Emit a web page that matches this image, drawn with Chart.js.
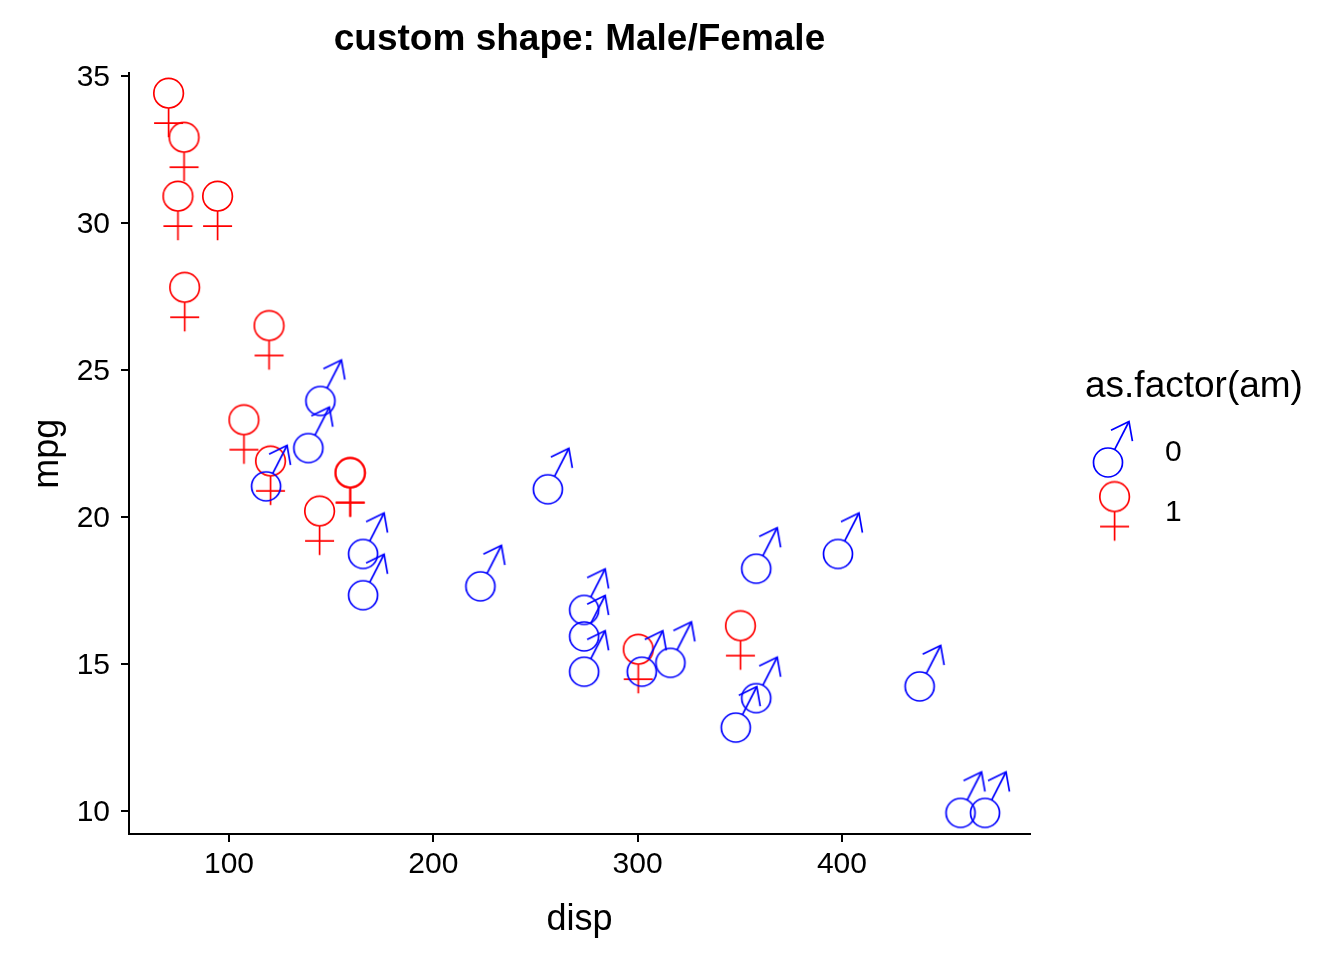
<!DOCTYPE html>
<html>
<head>
<meta charset="utf-8">
<title>custom shape: Male/Female</title>
<script src="https://cdn.jsdelivr.net/npm/chart.js@4.4.1/dist/chart.umd.min.js"></script>
<style>
  body { margin: 0; background: #fff; }
  #wrap { position: relative; width: 1344px; height: 960px; }
</style>
</head>
<body>
<div id="wrap"><canvas id="plot"></canvas></div>
<script>
// mtcars: disp vs mpg, split by am (0 = automatic, 1 = manual)
const dispAm0 = [258, 360, 225, 360, 146.7, 140.8, 167.6, 167.6, 275.8, 275.8, 275.8, 472, 460, 440, 120.1, 318, 304, 350, 400];
const mpgAm0  = [21.4, 18.7, 18.1, 14.3, 24.4, 22.8, 19.2, 17.8, 16.4, 17.3, 15.2, 10.4, 10.4, 14.7, 21.5, 15.5, 15.2, 13.3, 19.2];
const dispAm1 = [160, 160, 108, 78.7, 75.7, 71.1, 79, 120.3, 95.1, 351, 145, 301, 121];
const mpgAm1  = [21, 21, 22.8, 32.4, 30.4, 33.9, 27.3, 26, 30.4, 15.8, 19.7, 15, 21.4];

const xTicks = [100, 200, 300, 400];
const yTicks = [10, 15, 20, 25, 30, 35];
const legendLabels = ['0', '1'];

const FONT = "'Liberation Sans', Arial, Helvetica, sans-serif";
Chart.defaults.color = '#000';
Chart.defaults.font.family = FONT;

// draw the ♂ / ♀ symbol into a small canvas, the data point sits at its centre
function makeGlyph(kind, color) {
    const c = document.createElement('canvas');
    c.width = 80; c.height = 110;
    const g = c.getContext('2d');
    g.translate(40, 55);
    g.strokeStyle = color;
    g.lineWidth = 1.7;
    g.lineCap = 'butt';
    if (kind === 'male') {
        const cx = -4, cy = 13.5, r = 14.5;
        g.beginPath(); g.arc(cx, cy, r, 0, Math.PI * 2); g.stroke();
        const tx = cx + 21, ty = cy - 41;
        const len = Math.hypot(21, 41);
        const ux = 21 / len, uy = -41 / len;
        g.beginPath();
        g.moveTo(cx + ux * r, cy + uy * r);
        g.lineTo(tx, ty);
        g.stroke();
        const back = Math.atan2(-uy, -ux);
        const a = 37 * Math.PI / 180;
        g.beginPath();
        g.moveTo(tx + Math.cos(back + a) * 20, ty + Math.sin(back + a) * 20);
        g.lineTo(tx, ty);
        g.lineTo(tx + Math.cos(back - a) * 20, ty + Math.sin(back - a) * 20);
        g.stroke();
    } else {
        const cx = -1.4, cy = -14.8, r = 14.8;
        g.beginPath(); g.arc(cx, cy, r, 0, Math.PI * 2); g.stroke();
        g.beginPath();
        g.moveTo(cx, cy + r); g.lineTo(cx, cy + 44);
        g.moveTo(cx - 14.5, cy + 30); g.lineTo(cx + 14.5, cy + 30);
        g.stroke();
    }
    return c;
}

const maleGlyph = makeGlyph('male', '#0000ff');
const femaleGlyph = makeGlyph('female', '#ff0000');

const toPoints = (xs, ys) => xs.map((x, i) => ({x: x, y: ys[i]}));

// legend on the right, drawn like ggplot's guide
const sideLegend = {
    id: 'sideLegend',
    afterDraw(chart) {
        const ctx = chart.ctx;
        ctx.save();
        ctx.fillStyle = '#000';
        ctx.font = '37px ' + FONT;
        ctx.textAlign = 'left';
        ctx.textBaseline = 'alphabetic';
        ctx.fillText('as.factor(am)', 1085, 397);
        ctx.drawImage(maleGlyph, 1112 - 40, 449 - 55);
        ctx.drawImage(femaleGlyph, 1116 - 40, 511.5 - 55);
        ctx.font = '30px ' + FONT;
        ctx.textBaseline = 'middle';
        ctx.fillText(legendLabels[0], 1165, 453);
        ctx.fillText(legendLabels[1], 1165, 513);
        ctx.restore();
    }
};

new Chart(document.getElementById('plot'), {
    type: 'scatter',
    data: {
        datasets: [{
            label: legendLabels[0],
            data: toPoints(dispAm0, mpgAm0),
            pointStyle: maleGlyph,
            pointRadius: 3,
            clip: false
        }, {
            label: legendLabels[1],
            data: toPoints(dispAm1, mpgAm1),
            pointStyle: femaleGlyph,
            pointRadius: 3,
            clip: false
        }]
    },
    options: {
        responsive: true,
        maintainAspectRatio: false,
        animation: false,
        events: [],
        layout: { padding: { left: 0, right: 314, top: 0, bottom: 0 } },
        scales: {
            x: {
                type: 'linear',
                min: 51.055,
                max: 492.045,
                afterFit: s => { s.height = 126; },
                afterBuildTicks: s => { s.ticks = xTicks.map(v => ({value: v})); },
                border: { display: true, color: '#000', width: 2 },
                grid: { drawOnChartArea: false, drawTicks: true, tickLength: 8, color: '#000', lineWidth: 2 },
                ticks: { font: { size: 30 }, padding: 5, color: '#000', maxRotation: 0 },
                title: { display: true, text: 'disp', font: { size: 36 }, color: '#000', padding: { top: 4, bottom: 18 } }
            },
            y: {
                type: 'linear',
                min: 9.225,
                max: 35.075,
                afterFit: s => { s.width = 129; },
                afterBuildTicks: s => { s.ticks = yTicks.map(v => ({value: v})); },
                border: { display: true, color: '#000', width: 2 },
                grid: { drawOnChartArea: false, drawTicks: true, tickLength: 8, color: '#000', lineWidth: 2 },
                ticks: { font: { size: 30 }, padding: 11, color: '#000', labelOffset: 2 },
                title: { display: true, text: 'mpg', font: { size: 36 }, color: '#000', padding: { top: 26, bottom: 4 } }
            }
        },
        plugins: {
            legend: { display: false },
            tooltip: { enabled: false },
            title: {
                display: true,
                text: 'custom shape: Male/Female',
                fullSize: false,
                color: '#000',
                font: { size: 37, weight: 'bold' },
                padding: { top: 18, bottom: 11 }
            }
        }
    },
    plugins: [sideLegend]
});
</script>
</body>
</html>
